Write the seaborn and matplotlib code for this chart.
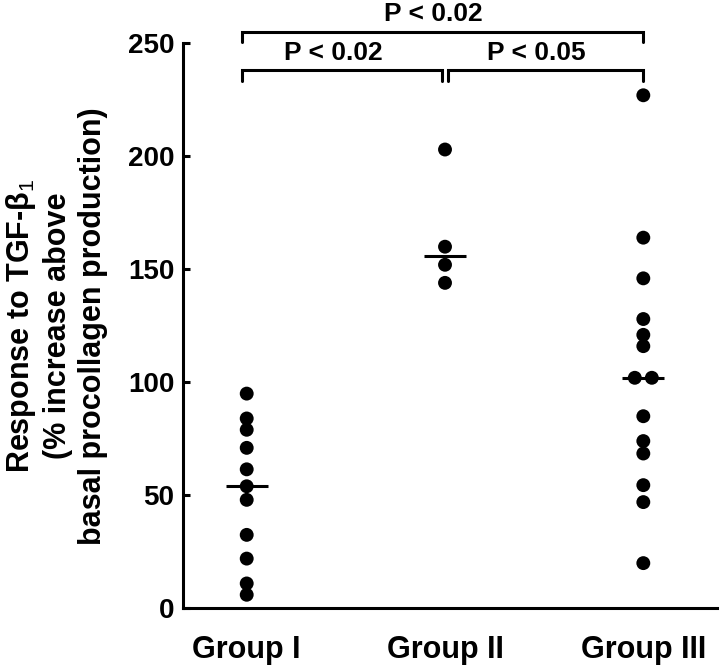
import numpy as np
import pandas as pd
import matplotlib
matplotlib.use("Agg")
import matplotlib.pyplot as plt
import seaborn as sns

# values (% increase above basal procollagen production)
groups = ["Group I", "Group II", "Group III"]
group_1 = [95, 84, 79, 71, 61.5, 54, 48, 32.5, 22, 11, 6]
group_2 = [203, 160, 152, 144]
group_3 = [227, 164, 146, 128, 121, 116, 102, 102, 85, 74, 68.5, 54.5, 47, 20]

# (first group, second group, label, bracket level)
comparisons = [
    (0, 1, "P < 0.02", 238),
    (1, 2, "P < 0.05", 238),
    (0, 2, "P < 0.02", 255),
]

ylabel = "Response to TGF-β$_1$\n(% increase above\nbasal procollagen production)"

sns.set_theme(style="ticks")
plt.rcParams["font.family"] = ["Liberation Sans", "DejaVu Sans"]
plt.rcParams["mathtext.fontset"] = "custom"
plt.rcParams["mathtext.rm"] = "Liberation Sans"
plt.rcParams["mathtext.default"] = "rm"
for key in ["text.color", "axes.labelcolor", "xtick.color", "ytick.color",
            "axes.edgecolor"]:
    plt.rcParams[key] = "black"

rows = []
for gi, vals in enumerate([group_1, group_2, group_3]):
    for v in vals:
        rows.append((groups[gi], gi, v))
df = pd.DataFrame(rows, columns=["group", "gidx", "value"])

# side-by-side placement of identical values
dodge = 0.043
df["k"] = df.groupby(["gidx", "value"]).cumcount()
df["n"] = df.groupby(["gidx", "value"])["value"].transform("size")
df["pos"] = df["gidx"] + (df["k"] - (df["n"] - 1) / 2) * 2 * dodge

fig = plt.figure(figsize=(7.2, 6.66), dpi=100)
ax = fig.add_axes([0.2546, 0.0866, 0.7408, 0.8484])

sns.scatterplot(data=df, x="pos", y="value", color="black", s=100,
                edgecolor="none", ax=ax, legend=False, zorder=3)

med = df.groupby("gidx")["value"].median()
ax.hlines(med.values, med.index - 0.105, med.index + 0.105,
          color="black", lw=2.2, zorder=4)

ax.set_xlim(-0.3197, 2.370)
ax.set_ylim(0, 250)
ax.set_xticks(range(len(groups)))
ax.set_xticklabels(groups, fontsize=22, fontweight="bold")
ax.set_yticks([0, 50, 100, 150, 200, 250])
ax.tick_params(axis="y", direction="in", length=5, width=2.2, pad=6.5,
               labelsize=20)
for lab in ax.get_yticklabels():
    lab.set_fontweight("bold")
ax.tick_params(axis="x", length=0, pad=19)
sns.despine(ax=ax)
for side in ["left", "bottom"]:
    ax.spines[side].set_linewidth(2.2)

ax.set_xlabel("")
ax.set_ylabel(ylabel, fontsize=22, fontweight="bold", linespacing=1.2)
ax.yaxis.set_label_coords(-0.142, 0.5)

# significance brackets
gap = 0.015
for a, b, text, level in comparisons:
    x0 = a - 0.025 if a == 0 else a + gap
    x1 = b - gap if b == 1 else b
    ax.plot([x0, x0, x1, x1], [level - 4.5, level, level, level - 4.5],
            color="black", lw=2.2, clip_on=False, solid_joinstyle="miter")
    ax.text((x0 + x1) / 2 - 0.045, level + 2.5, text, ha="center", va="bottom",
            fontsize=19, fontweight="bold", clip_on=False)

fig.savefig("out.png", dpi=100)
